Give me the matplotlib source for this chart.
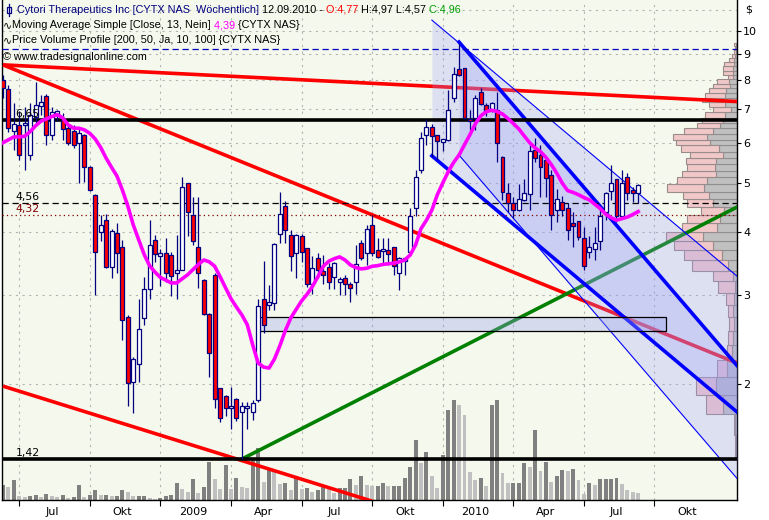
import numpy as np
import pandas as pd
import matplotlib
matplotlib.use('Agg')
import matplotlib.pyplot as plt
from matplotlib.lines import Line2D
from matplotlib.patches import Rectangle

# weekly OHLC, CYTX, 13.06.2008 - 10.09.2010
opens = [8.00, 7.67, 6.35, 6.52, 6.50, 5.67, 6.75, 7.11, 7.44, 6.22, 6.82, 6.67, 6.42, 6.35, 5.99, 6.22, 5.37, 4.74, 3.99, 4.23,
         3.41, 3.98, 3.74, 2.72, 2.02, 2.19, 2.70, 3.09, 3.86, 3.59, 3.64, 3.60, 3.32, 3.37, 4.99, 4.32, 3.74, 3.22, 2.75, 3.29,
         1.96, 1.89, 1.79, 1.87, 1.76, 1.79, 1.76, 1.86, 2.94, 2.87, 2.89, 3.96, 4.50, 3.95, 3.64, 3.92, 3.71, 3.15, 3.55, 3.34,
         3.41, 3.26, 3.19, 3.24, 3.15, 3.19, 3.80, 3.64, 4.13, 3.68, 3.66, 3.69, 3.73, 3.31, 3.50, 3.65, 4.47, 5.31, 6.22, 6.47,
         6.21, 6.03, 6.08, 7.36, 8.40, 8.44, 6.70, 6.72, 7.58, 7.14, 6.98, 6.98, 5.64, 4.78, 4.57, 4.42, 4.63, 4.76, 5.81, 5.68,
         5.55, 5.19, 4.42, 4.58, 4.46, 4.13, 4.20, 3.89, 3.65, 3.70, 3.83, 4.39, 4.83, 5.09, 4.31, 5.14, 4.82, 4.77]
highs = [8.18, 7.82, 7.19, 6.93, 7.08, 7.19, 7.94, 7.46, 7.52, 7.08, 6.98, 6.87, 6.52, 6.52, 6.42, 6.25, 5.40, 4.76, 4.32, 4.35,
         4.05, 4.16, 3.86, 2.74, 2.26, 2.95, 3.26, 4.23, 3.95, 3.70, 3.89, 3.65, 3.95, 5.15, 5.00, 4.70, 4.70, 3.23, 2.77, 3.31,
         1.96, 1.90, 1.97, 1.88, 1.84, 1.84, 1.86, 2.95, 3.50, 3.14, 3.80, 4.80, 4.60, 4.04, 3.97, 3.96, 3.72, 3.58, 3.63, 3.60,
         3.47, 3.48, 3.26, 3.29, 3.19, 3.77, 3.86, 4.13, 4.33, 3.89, 3.89, 3.89, 3.74, 3.56, 3.56, 4.47, 5.31, 6.30, 6.71, 6.55,
         6.22, 6.09, 7.64, 8.50, 9.48, 8.46, 6.96, 7.46, 7.70, 7.19, 7.22, 7.58, 5.66, 5.00, 4.70, 4.97, 5.09, 5.94, 6.13, 5.94,
         5.56, 5.31, 4.86, 4.72, 4.57, 4.39, 4.21, 4.10, 3.92, 4.10, 4.49, 4.80, 5.43, 5.10, 5.31, 5.23, 4.90, 4.97]
lows = [7.37, 6.32, 5.81, 5.55, 5.31, 5.55, 6.52, 6.82, 5.94, 6.08, 6.62, 6.08, 5.95, 5.86, 4.99, 5.03, 4.82, 3.00, 3.83, 3.39,
        3.24, 3.31, 2.44, 1.81, 1.75, 2.02, 2.62, 2.95, 3.49, 3.12, 3.19, 2.99, 2.95, 3.37, 3.92, 3.77, 3.10, 2.74, 2.06, 1.79,
        1.68, 1.73, 1.63, 1.69, 1.42, 1.63, 1.70, 1.84, 2.52, 2.80, 2.80, 3.80, 3.81, 3.34, 3.24, 3.49, 3.11, 3.02, 3.24, 3.16,
        3.09, 3.09, 3.00, 3.00, 2.91, 3.02, 3.52, 3.44, 3.58, 3.55, 3.44, 3.44, 3.28, 3.07, 3.29, 3.60, 4.31, 5.23, 5.94, 5.64,
        5.55, 5.79, 6.05, 7.25, 8.15, 6.70, 6.37, 6.37, 7.14, 6.79, 6.90, 5.51, 4.63, 4.39, 4.26, 4.40, 4.60, 4.42, 5.50, 4.70,
        4.70, 4.04, 4.18, 4.30, 3.86, 3.74, 3.86, 3.36, 3.55, 3.52, 3.68, 4.22, 4.63, 4.19, 4.29, 4.63, 4.58, 4.57]
closes = [7.70, 6.42, 6.53, 5.68, 6.57, 6.82, 7.14, 7.22, 6.22, 6.90, 6.93, 6.39, 5.99, 5.94, 6.29, 5.37, 4.84, 3.65, 4.13, 3.41,
          4.01, 3.63, 2.68, 2.01, 2.24, 2.57, 3.09, 3.77, 3.61, 3.62, 3.32, 3.27, 3.37, 4.90, 4.39, 3.83, 3.31, 2.75, 2.30, 1.87,
          1.71, 1.79, 1.81, 1.71, 1.81, 1.80, 1.83, 2.85, 2.62, 2.89, 3.78, 4.35, 4.04, 3.58, 3.95, 3.65, 3.15, 3.40, 3.37, 3.29,
          3.19, 3.47, 3.20, 3.16, 3.10, 3.46, 3.55, 4.05, 3.64, 3.56, 3.68, 3.61, 3.42, 3.55, 3.55, 4.31, 5.14, 6.13, 6.45, 6.19,
          6.05, 6.08, 6.96, 8.22, 8.18, 6.72, 6.62, 7.36, 7.17, 6.93, 7.21, 5.99, 4.80, 4.57, 4.43, 4.65, 4.78, 5.79, 5.61, 5.37,
          5.12, 4.32, 4.65, 4.42, 4.04, 4.11, 3.91, 3.42, 3.74, 3.80, 4.31, 4.78, 5.01, 4.31, 5.00, 4.78, 4.78, 4.96]
# 13 week simple moving average as drawn
sma13 = [6.01, 6.09, 6.17, 6.17, 6.19, 6.32, 6.49, 6.63, 6.70, 6.77, 6.83, 6.73, 6.52, 6.42, 6.42, 6.37, 6.27, 6.11, 5.88, 5.60,
         5.37, 5.16, 4.84, 4.50, 4.13, 3.86, 3.61, 3.43, 3.33, 3.25, 3.21, 3.17, 3.17, 3.23, 3.29, 3.37, 3.45, 3.52, 3.49, 3.42,
         3.26, 3.10, 2.95, 2.84, 2.74, 2.62, 2.39, 2.20, 2.16, 2.15, 2.24, 2.38, 2.55, 2.70, 2.81, 2.92, 3.01, 3.12, 3.26, 3.42,
         3.50, 3.54, 3.57, 3.52, 3.44, 3.40, 3.38, 3.39, 3.42, 3.43, 3.45, 3.46, 3.47, 3.49, 3.52, 3.60, 3.77, 4.06, 4.22, 4.42,
         4.74, 5.00, 5.26, 5.49, 5.68, 5.95, 6.23, 6.55, 6.79, 6.92, 6.97, 6.93, 6.85, 6.71, 6.56, 6.40, 6.20, 6.01, 5.87, 5.77,
         5.62, 5.44, 5.23, 5.00, 4.83, 4.79, 4.74, 4.68, 4.63, 4.54, 4.45, 4.34, 4.27, 4.22, 4.25, 4.28, 4.33, 4.39]
# weekly volume (x1000 shares)
volume = [150, 130, 200, 40, 30, 40, 50, 30, 60, 40, 30, 50, 20, 30, 150, 30, 50, 100, 50, 50,
          40, 40, 100, 80, 40, 40, 40, 20, 10, 20, 40, 50, 170, 110, 80, 210, 70, 130, 380, 210,
          110, 350, 110, 220, 130, 120, 400, 520, 180, 320, 280, 160, 170, 100, 240, 110, 120, 80, 100, 130,
          120, 70, 120, 120, 210, 150, 240, 150, 140, 140, 170, 140, 140, 140, 220, 330, 600, 370, 480, 240,
          120, 450, 900, 1000, 950, 850, 280, 200, 220, 140, 950, 1000, 270, 170, 170, 170, 370, 330, 700, 290,
          380, 180, 240, 300, 290, 310, 200, 60, 170, 150, 210, 210, 210, 220, 160, 100, 80, 70]

# price volume profile, 50 bins between 1.42 and 9.48 (x1000 shares)
prof_lo, prof_hi, prof_bins = 1.42, 9.48, 50
prof_down = [10, 20, 143, 210, 103, 53, 43, 30, 37, 30, 20, 43, 87, 153, 243, 337, 203, 170, 130, 237,
             277, 330, 303, 210, 220, 210, 137, 177, 270, 303, 243, 170, 137, 120, 63, 117, 153, 117, 110, 70,
             77, 37, 43, 37, 30, 30, 17, 10, 7, 10]
prof_up = [10, 10, 170, 200, 93, 50, 43, 47, 50, 80, 167, 193, 367, 377, 383, 373, 350, 333, 233, 267,
           260, 367, 300, 343, 283, 300, 333, 387, 340, 340, 283, 227, 217, 200, 180, 160, 200, 203, 167, 173,
           120, 50, 93, 100, 100, 47, 37, 20, 13, 20]

# drawing tools (bar index, price)
red_top = ([0, 135.2], [8.57, 7.25])
red_mid = ([0, 135.2], [8.57, 2.20])
red_low = ([0, 75], [1.98, 1.11])
green_up = ([44, 135.2], [1.42, 4.48])
chan1_hi = ([79, 135.2], [10.51, 3.27])
chan1_lo = ([79, 135.2], [5.66, 1.76])
chan2_hi = ([84, 135.2], [9.51, 2.175])
chan2_lo = ([84, 135.2], [5.68, 1.30])
poc_box = (47, 2.548, 2.710)
levels = {'6,65': 6.65, '4,56': 4.56, '4,32': 4.32, '1,42': 1.42}
blue_level = 9.21

W, H = 769, 520
fig = plt.figure(figsize=(W / 100, H / 100), dpi=100)
fig.patch.set_facecolor('white')
ax = fig.add_axes([2 / W, 20 / H, 735 / W, 500 / H])
bg = '#f5f8ec'
ax.set_facecolor(bg)

n = len(closes)
x = np.arange(n)
xmin, xmax = -0.18, 135.2
ymin, ymax = 1.178, 11.52
ax.set_yscale('log')

# dates for the time axis
dates = pd.date_range(end='2010-09-10', periods=n, freq='W-FRI')
dates = dates.append(pd.date_range(start=dates[-1] + pd.Timedelta(days=7), periods=22, freq='W-FRI'))
mnames = {1: None, 4: 'Apr', 7: 'Jul', 10: 'Okt'}
qticks, qlabels = [], []
for i in range(1, len(dates)):
    if dates[i].month != dates[i - 1].month and dates[i].month in mnames and i + 6 < xmax:
        qticks.append(i)
        qlabels.append(str(dates[i].year) if dates[i].month == 1 else mnames[dates[i].month])

# grid
grid_prices = [2, 3, 4, 5, 6, 7, 8, 9, 10, 11]
for p in grid_prices:
    ax.axhline(p, color='#b4b4b4', lw=0.8, ls=(0, (2, 4)), zorder=0.5)
for t in qticks:
    ax.axvline(t, color='#b4b4b4', lw=0.8, ls=(0, (2, 4)), zorder=0.5)

# volume at the bottom
vcol = ['#808080' if (i == 0 or volume[i] >= volume[i - 1]) else '#c0c0c0' for i in range(n)]
ax.bar(x, np.array(volume) / 5000.0, width=0.72, bottom=0, color=vcol,
       transform=ax.get_xaxis_transform(), zorder=1)

# volume profile on the right
edges = np.linspace(prof_lo, prof_hi, prof_bins + 1)
pdown = np.array(prof_down, float)
pup = np.array(prof_up, float)
scale = 0.0967 * (xmax - xmin) / (pdown + pup).max()
ax.barh(edges[:-1], pdown * scale, height=np.diff(edges), left=xmax - pdown * scale, align='edge',
        color='#c0c0c0', edgecolor='#8f8f8f', lw=0.8, zorder=2)
ax.barh(edges[:-1], pup * scale, height=np.diff(edges), left=xmax - (pdown + pup) * scale, align='edge',
        color='#f0c8c8', edgecolor='#9a8c8c', lw=0.8, zorder=2)

# trend lines
for ln in (red_top, red_mid, red_low):
    ax.plot(ln[0], ln[1], color='#ff0000', lw=2.6, zorder=3, solid_capstyle='butt')
ax.plot(green_up[0], green_up[1], color='#008000', lw=2.6, zorder=3)

# regression channels
ax.fill_between(chan1_hi[0], chan1_lo[1], chan1_hi[1], color='#999cff', alpha=0.25, lw=0, zorder=4)
ax.fill_between(chan2_hi[0], chan2_lo[1], chan2_hi[1], color='#999cff', alpha=0.25, lw=0, zorder=4)
ax.plot(chan1_hi[0], chan1_hi[1], color='#0000ff', lw=0.8, zorder=5)
ax.plot(chan1_lo[0], chan1_lo[1], color='#0000ff', lw=2.6, zorder=5)
ax.plot(chan2_hi[0], chan2_hi[1], color='#0000ff', lw=2.6, zorder=5)
ax.plot(chan2_lo[0], chan2_lo[1], color='#0000ff', lw=0.8, zorder=5)

# point of control box
poc_i = int(np.argmax(pdown + pup))
box_right = xmax - (pdown[poc_i] + pup[poc_i]) * scale
ax.add_patch(Rectangle((poc_box[0], poc_box[1]), box_right - poc_box[0], poc_box[2] - poc_box[1],
                       facecolor='#9aa2ee', alpha=0.35, edgecolor='none', zorder=5))
ax.add_patch(Rectangle((poc_box[0], poc_box[1]), box_right - poc_box[0], poc_box[2] - poc_box[1],
                       facecolor='none', edgecolor='black', lw=0.9, zorder=5))

# horizontal levels
ax.axhline(levels['6,65'], color='black', lw=2.6, zorder=6)
ax.axhline(levels['1,42'], color='black', lw=2.6, zorder=6)
ax.axhline(levels['4,56'], color='black', lw=0.9, ls=(0, (5, 3)), zorder=6)
ax.axhline(levels['4,32'], color='#800000', lw=0.9, ls=(0, (1, 2.5)), zorder=6)
ax.axhline(blue_level, color='#0000c0', lw=0.9, ls=(0, (5, 3)), zorder=6)
for lab, col in (('6,65', 'black'), ('4,56', 'black'), ('4,32', '#800000'), ('1,42', 'black')):
    ax.annotate(lab, (2.3, levels[lab]), xytext=(0, 2.2), textcoords='offset points',
                fontsize=7.8, color=col, va='baseline', ha='left', zorder=9)

# candles
o = np.array(opens); c = np.array(closes)
ax.vlines(x, lows, highs, color='#000080', lw=0.9, zorder=7)
body_lo = np.minimum(o, c)
body_h = np.maximum(np.abs(c - o), 0.012 * body_lo)
fill = np.where(c >= o, 'white', '#ff0000')
ax.bar(x, body_h, bottom=body_lo, width=0.72, color=fill, edgecolor='#000080', lw=0.9, zorder=8)

# moving average
ax.plot(x, sma13, color='#ff00ff', lw=2.6, zorder=8.5)

# axes cosmetics
for s in ('left', 'right', 'bottom'):
    ax.spines[s].set_color('black')
    ax.spines[s].set_linewidth(1.0)
ax.spines['top'].set_visible(False)
ax.yaxis.tick_right()
ax.set_yticks([2, 3, 4, 5, 6, 7, 8, 9, 10])
ax.set_yticklabels(['2', '3', '4', '5', '6', '7', '8', '9', '10'])
ax.yaxis.set_minor_locator(matplotlib.ticker.NullLocator())
ax.tick_params(axis='y', which='major', direction='out', length=3, width=0.8, pad=1.5, labelsize=8)
ax.set_xticks(qticks)
ax.set_xticklabels([])
ax.set_xticks([t + 6 for t in qticks], minor=True)
ax.set_xticklabels(qlabels, minor=True)
ax.tick_params(axis='x', which='major', direction='out', length=4, width=0.8)
ax.tick_params(axis='x', which='minor', length=0, pad=5, labelsize=8)
ax.set_xlim(xmin, xmax)
ax.set_ylim(ymin, ymax)
fig.text(745 / W, 1 - 10 / H, '$', fontsize=8, va='center', ha='left')

# header texts
fig.canvas.draw()
rend = fig.canvas.get_renderer()


def pieces(x0, y0, parts, size=7.8):
    xx = x0
    for s, col in parts:
        t = fig.text(xx / W, 1 - y0 / H, s, color=col, fontsize=size, va='center', ha='left',
                     family=['Liberation Sans', 'DejaVu Sans'], zorder=10)
        xx += t.get_window_extent(renderer=rend).width


pieces(17, 10, [('Cytori Therapeutics Inc [CYTX NAS  Wöchentlich]', '#000080'), (' 12.09.2010 -', 'black'),
                (' O:4,77', '#ff0000'), (' H:4,97 L:4,57', 'black'), (' C:4,96', '#00a000')])
pieces(3, 25, [('∿', 'black'), ('Moving Average Simple [Close, 13, Nein]', 'black'), (' 4,39', '#ff00ff'),
               (' {CYTX NAS}', 'black')])
pieces(3, 40, [('∿', 'black'), ('Price Volume Profile [200, 50, Ja, 10, 100] {CYTX NAS}', 'black')])
pieces(3, 57, [('© www.tradesignalonline.com', 'black')])
# candle icon
fig.add_artist(Line2D([9 / W, 9 / W], [1 - 4 / H, 1 - 16 / H], color='#000080', lw=0.9))
fig.add_artist(Rectangle((7 / W, 1 - 13 / H), 4 / W, 6 / H, facecolor='white', edgecolor='#000080', lw=0.9))

fig.savefig('out.png', dpi=100, facecolor=fig.get_facecolor())
